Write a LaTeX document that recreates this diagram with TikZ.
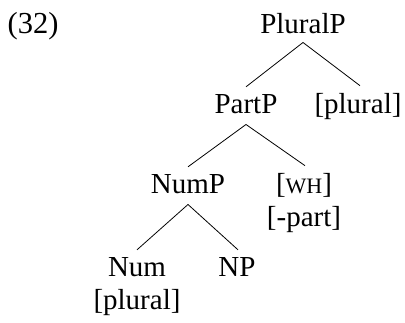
\documentclass[tikz,border=0pt]{standalone}
\usepackage{fontspec}
\setmainfont{Liberation Serif}
\begin{document}
\begin{tikzpicture}[x=1pt,y=-1pt,
  lab/.style={anchor=base, inner sep=0pt, font=\fontsize{29}{33}\selectfont},
  edge/.style={line width=0.8pt}]
\useasboundingbox (0,0) rectangle (405,322);
\node[lab, anchor=base west, font=\fontsize{30.5}{33}\selectfont] (ex) at (7.5,33) {(32)};
\node[lab] (pluralp) at (303,33) {PluralP};
\node[lab] (partp) at (246,113) {PartP};
\node[lab] (pl1) at (358,113) {[plural]};
\node[lab] (nump) at (188,193) {NumP};
\node[lab] (wh) at (304,193) {[{\fontsize{22}{25}\selectfont WH}]};
\node[lab] (part) at (304,226) {[-part]};
\node[lab] (num) at (137,276) {Num};
\node[lab] (np) at (237,276) {NP};
\node[lab] (pl2) at (137,309) {[plural]};
\draw[edge] ([yshift=-9pt]pluralp.south) -- ([yshift=7pt]partp.north);
\draw[edge] ([yshift=-9pt]pluralp.south) -- ([yshift=7pt,xshift=2pt]pl1.north);
\draw[edge] ([yshift=-11pt]partp.south) -- ([yshift=7pt]nump.north);
\draw[edge] ([yshift=-11pt]partp.south) -- ([yshift=7pt,xshift=1pt]wh.north);
\draw[edge] ([yshift=-11pt]nump.south) -- ([yshift=7pt]num.north);
\draw[edge] ([yshift=-11pt]nump.south) -- ([yshift=7pt,xshift=1pt]np.north);
\end{tikzpicture}
\end{document}
